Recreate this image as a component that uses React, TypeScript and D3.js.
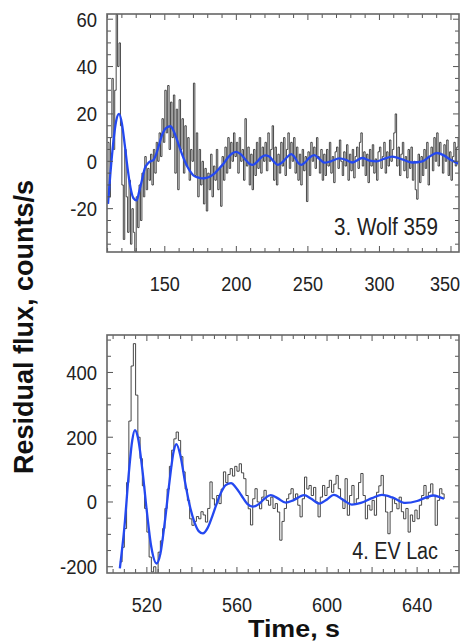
import * as d3 from "d3";

// ---- data ----
// panel 3: Wolf 359, 1 s bins starting at 110 s
const wolfStart = 110;
const wolfFlux = [
  8, -15, 10, 35, 5, 30, 62, 40, 50, 15,
  -10, -33, 5, -15, -30, -8, -35, -20, -30, -38,
  -15, -28, -10, -25, -5, -15, 2, -12, -3, -8,
  3, -10, 5, -5, 8, 0, 12, 2, 18, 8,
  30, 12, 32, 5, 25, 10, 28, -5, 22, -12,
  26, 5, 18, -5, 15, -2, 10, -8, 5, 0,
  33, -6, 12, -15, 5, -10, 0, -18, -3, -21,
  -5, -12, 3, -15, -2, -8, 5, -12, -3, -19,
  2, -8, 6, -5, 10, -3, 8, 0, 12, 2,
  8, -5, 10, 0, 5, -8, 18, -2, 6, -10,
  3, -12, 5, -6, 8, -3, 10, -5, 6, 0,
  8, -4, 12, 0, 5, 15, -8, 6, -10, 3,
  -5, 8, -2, 10, -6, 5, 12, -3, 8, 0,
  10, -5, 6, -8, 3, -10, 5, -4, 2, -17,
  4, -6, 8, 0, 6, -3, 10, 2, -5, 5,
  -8, 3, -6, 5, -2, 8, -5, 2, -9, 4,
  6, -3, 9, 0, -6, 4, -2, 7, -8, 3,
  -4, 5, -7, 2, 6, -3, 8, 12, -2, 4,
  -6, 3, -9, 5, -2, 7, -5, 1, -8, 4,
  6, -3, 2, 8, -5, 4, -2, 9, 0, 5,
  12, 20, -2, 6, -6, 3, 8, -4, 2, -7,
  5, -3, 6, -8, 0, -12, -16, 3, -9, 2,
  -6, 5, -3, 8, -10, 2, 6, -4, 10, 0,
  12, -2, 8, 3, -5, 7, 0, 9, -6, 4,
  -8, 2, 8, -2, 6, 10,
];
const wolfFitT = [
  110.3, 112, 114, 116, 118, 120, 122, 124, 126, 128, 130.3, 132, 134, 136, 138,
  140, 142, 144, 146, 148, 150, 152, 154, 156, 158, 160, 162, 164, 166, 168, 170,
  173, 176, 179, 182, 185, 188, 191, 194, 197, 200, 203, 206, 209, 211.5, 214, 217,
  220, 223, 226, 229, 232, 235, 238.3, 241, 243, 245.3, 248, 251, 254.6, 258,
  261.6, 266, 272, 277, 281, 288, 293, 298, 303, 309, 316, 323, 330, 335, 340,
  345, 350, 355,
];
const wolfFitV = [
  -18, -5, 8, 17, 20, 16, 7, -3, -11, -15.5, -16.5, -13, -8, -3, -1,
  0, 0.5, 3, 7, 11, 13.5, 14.5, 14.8, 13, 10, 6.5, 3, 0, -2.5, -4.5, -6,
  -6.8, -7.2, -7, -6.3, -5, -3, -1, 1.5, 3.3, 4, 3, 1, -1, -1.5, -0.5, 1.5,
  2.5, 2, 0, -1.5, -0.5, 1.5, 3, 1.5, -0.5, -1.5, -0.5, 1.5, 2.6, 1,
  -0.6, 0, 1.2, 0.5, -0.5, 1.4, 0.3, 0, 1, 2, 0.8, -0.5, 0, 2, 3.5,
  2.5, 0.5, -1,
];
const wolfXTicks = [150, 200, 250, 300, 350];
const wolfYTicks = [60, 40, 20, 0, -20];

// panel 4: EV Lac, 1 s bins starting at 508 s
const evStart = 508;
const evFlux = [
  -185, -140, -82, 60, 250, 420, 489, 330, 200, 134,
  50, -20, -93, -170, -216, -200, -225, -155, -120, -82,
  -20, 40, 110, 160, 195, 216, 190, 140, 93, 40,
  5, -52, -72, -60, -45, -52, -30, -40, -62, -20,
  62, 10, -10, 20, -5, 40, 93, 60, 85, 103,
  80, 110, 95, 118, 90, 72, 20, -21, -71, 10,
  41, 0, -21, 15, 36, 5, -10, 15, -20, -5,
  -31, -118, -60, -20, 10, 25, 41, 10, 25, -10,
  -46, 10, 77, 40, 51, 20, 45, 0, -46, 15,
  51, 20, 45, 67, 30, 55, 82, 41, 10, -20,
  72, -41, 20, 51, -5, 10, 60, 88, 20, -52,
  -10, -25, 5, -41, 30, 50, 82, 20, -31, -98,
  -30, 10, -5, -21, 15, -30, -52, -20, -93, -40,
  -60, -25, -52, -10, 20, 51, 10, 30, 56, 20,
  -72, 5, 41, 25, 10,
];
const evFitT = [
  508, 510, 512, 513.5, 514.7, 516, 518, 520, 522, 524.3, 526, 528, 530, 532,
  533.1, 535, 537, 539, 541, 543, 544.9, 547, 549, 551, 553, 555, 557.4, 559.5,
  562, 564.5, 567, 570, 572.5, 575, 578, 581.7, 585, 589.8, 593, 596.5, 600, 603,
  607.5, 611, 615, 620, 624.4, 629, 634.8, 640, 644, 647.3, 650, 652,
];
const evFitV = [
  -205, -80, 90, 190, 222, 200, 100, -30, -140, -190, -160, -60, 60, 160,
  179, 140, 60, -10, -60, -90, -97, -80, -45, -5, 30, 52, 58, 45,
  20, -5, -14.5, -5, 12, 21, 12, -2, 5, 21, 10, -5, 8, 22,
  5, -8, -3, 12, 22, 14, -3, 3, 14, 20, 15, 10,
];
const evXTicks = [520, 560, 600, 640];
const evYTicks = [400, 200, 0, -200];

const font = "'Liberation Sans', Arial, sans-serif";

type PanelProps = {
  id: string;
  top: number;
  bottom: number;
  xDomain: [number, number];
  yDomain: [number, number];
  start: number;
  flux: number[];
  fitT: number[];
  fitV: number[];
  xTicks: number[];
  yTicks: number[];
  xMinor: number;
  xMajor: number;
  yMinor: number;
  yMajor: number;
  label: string;
  labelSize: number;
  labelBase: number;
};

const left = 107;
const right = 459;

function Panel(p: PanelProps) {
  const x = d3.scaleLinear().domain(p.xDomain).range([left, right]);
  const y = d3.scaleLinear().domain(p.yDomain).range([p.bottom, p.top]);

  const black = d3
    .line<number>()
    .x((_, i) => x(p.start + i))
    .y((d) => y(d))
    .curve(d3.curveStepAfter)(p.flux);

  const blue = d3
    .line<number>()
    .x((_, i) => x(p.fitT[i]))
    .y((d) => y(d))
    .curve(d3.curveMonotoneX)(p.fitV);

  const xm = d3.range(
    Math.ceil(p.xDomain[0] / p.xMinor) * p.xMinor,
    p.xDomain[1],
    p.xMinor
  );
  const ym = d3.range(
    Math.ceil(p.yDomain[0] / p.yMinor) * p.yMinor,
    p.yDomain[1],
    p.yMinor
  );
  const isMaj = (v: number, m: number) => Math.abs(v / m - Math.round(v / m)) < 1e-6;

  return (
    <g>
      <defs>
        <clipPath id={p.id}>
          <rect x={left} y={p.top} width={right - left} height={p.bottom - p.top} />
        </clipPath>
      </defs>
      <g clipPath={`url(#${p.id})`}>
        <path d={black ?? ""} fill="none" stroke="#333" strokeWidth={0.9} />
        <path d={blue ?? ""} fill="none" stroke="#2448f0" strokeWidth={2.3} />
      </g>
      {/* ticks inside the frame */}
      <g stroke="#555" strokeWidth={1}>
        {xm.map((v) => {
          const l = isMaj(v, p.xMajor) ? 6 : 4;
          return (
            <g key={"x" + v}>
              <line x1={x(v)} x2={x(v)} y1={p.top} y2={p.top + l} />
              <line x1={x(v)} x2={x(v)} y1={p.bottom} y2={p.bottom - l} />
            </g>
          );
        })}
        {ym.map((v) => {
          const l = isMaj(v, p.yMajor) ? 6 : 4;
          return (
            <g key={"y" + v}>
              <line x1={left} x2={left + l} y1={y(v)} y2={y(v)} />
              <line x1={right} x2={right - l} y1={y(v)} y2={y(v)} />
            </g>
          );
        })}
      </g>
      <rect
        x={left}
        y={p.top}
        width={right - left}
        height={p.bottom - p.top}
        fill="none"
        stroke="#666"
        strokeWidth={1.6}
      />
      <g fontFamily={font} fontSize={21} fill="#222">
        {p.xTicks.map((v) => (
          <text
            key={"xl" + v}
            transform={`translate(${Math.min(x(v), 445)},${p.bottom + 39}) scale(0.86,1)`}
            textAnchor="middle"
          >
            {v}
          </text>
        ))}
        {p.yTicks.map((v) => (
          <text
            key={"yl" + v}
            transform={`translate(97,${y(v) + 7.5}) scale(0.88,1)`}
            textAnchor="end"
          >
            {v}
          </text>
        ))}
        <text
          transform={`translate(438,${p.labelBase}) scale(0.86,1)`}
          textAnchor="end"
          fontSize={p.labelSize}
        >
          {p.label}
        </text>
      </g>
    </g>
  );
}

export default function App() {
  return (
    <svg
      width={462}
      height={644}
      style={{ position: "absolute", left: 0, top: 0, background: "#fff" }}
    >
      <Panel
        id="clipWolf"
        top={14}
        bottom={252}
        xDomain={[109.6, 355.6]}
        yDomain={[-38.3, 62.2]}
        start={wolfStart}
        flux={wolfFlux}
        fitT={wolfFitT}
        fitV={wolfFitV}
        xTicks={wolfXTicks}
        yTicks={wolfYTicks}
        xMinor={10}
        xMajor={50}
        yMinor={5}
        yMajor={20}
        label="3. Wolf 359"
        labelSize={24}
        labelBase={235}
      />
      <Panel
        id="clipEv"
        top={335}
        bottom={573}
        xDomain={[502.3, 658.6]}
        yDomain={[-219.3, 515.7]}
        start={evStart}
        flux={evFlux}
        fitT={evFitT}
        fitV={evFitV}
        xTicks={evXTicks}
        yTicks={evYTicks}
        xMinor={5}
        xMajor={20}
        yMinor={50}
        yMajor={200}
        label="4. EV Lac"
        labelSize={23}
        labelBase={559}
      />
      <text
        transform="translate(33,327) rotate(-90)"
        textAnchor="middle"
        fontFamily={font}
        fontWeight="bold"
        fontSize={27}
        fill="#111"
      >
        Residual flux, counts/s
      </text>
      <text
        x={294}
        y={637}
        textAnchor="middle"
        fontFamily={font}
        fontWeight="bold"
        fontSize={23}
        fill="#111"
        textLength={92}
        lengthAdjust="spacingAndGlyphs"
      >
        Time, s
      </text>
    </svg>
  );
}
